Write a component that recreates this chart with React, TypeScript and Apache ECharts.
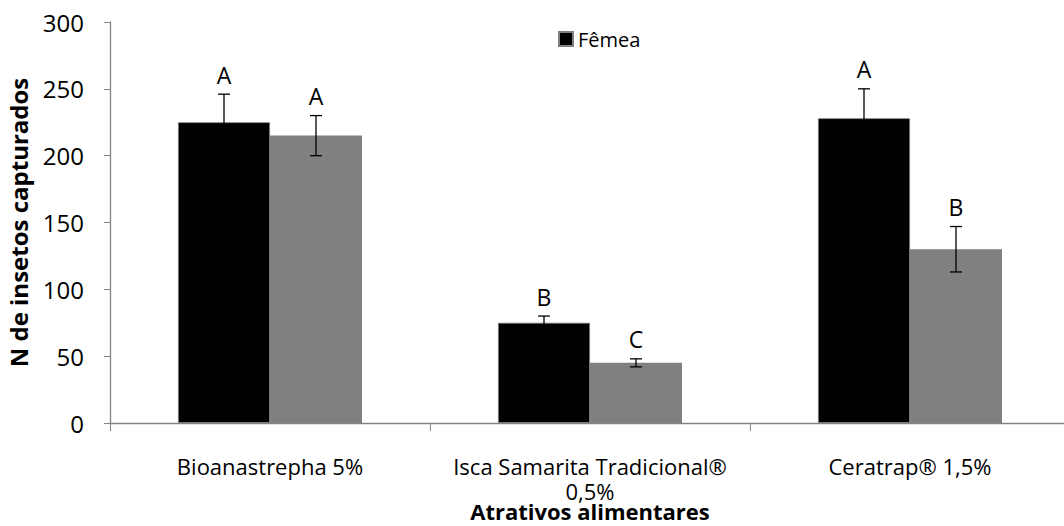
import React, { useEffect, useRef } from "react";
import * as echarts from "echarts";

const categories = ["Bioanastrepha 5%", "Isca Samarita Tradicional®\n0,5%", "Ceratrap® 1,5%"];
const femea = [225, 75, 228];
const femeaErr = [21, 5, 22];
const femeaLetters = ["A", "B", "A"];
const macho = [215, 45, 130];
const machoErr = [15, 3, 17];
const machoLetters = ["A", "C", "B"];
const yTicks = { min: 0, max: 300, interval: 50 };

const FONT = "'Open Sans', 'Noto Sans', sans-serif";
const BAR_W = 92;

export default function App() {
  const ref = useRef<HTMLDivElement>(null);
  useEffect(() => {
    if (!ref.current) return;
    const chart = echarts.init(ref.current, null, { renderer: "svg" });
    const errData = (vals: number[], errs: number[]) => vals.map((v, i) => [i, v, errs[i]]);
    const makeErr = (offsetSign: number, letters: string[]) => (params: any, api: any) => {
      const i = api.value(0);
      const v = api.value(1);
      const e = api.value(2);
      const center = api.coord([i, v]);
      const x = center[0] + (offsetSign * BAR_W) / 2;
      const top = api.coord([i, v + e])[1];
      const bot = api.coord([i, v - e])[1];
      const cap = 6;
      const st = { stroke: "#000", lineWidth: 1.3 };
      return {
        type: "group",
        children: [
          { type: "line", shape: { x1: x, y1: top, x2: x, y2: bot }, style: st },
          { type: "line", shape: { x1: x - cap, y1: top, x2: x + cap, y2: top }, style: st },
          { type: "line", shape: { x1: x - cap, y1: bot, x2: x + cap, y2: bot }, style: st },
          {
            type: "text",
            x: x,
            y: top - 8,
            style: {
              text: letters[params.dataIndex],
              fill: "#000",
              font: `23px ${FONT}`,
              textAlign: "center",
              textVerticalAlign: "bottom",
            },
          },
        ],
      };
    };
    chart.setOption({
      animation: false,
      textStyle: { fontFamily: FONT },
      legend: {
        data: [{ name: "Fêmea", icon: "rect" }],
        top: 24,
        left: 553,
        itemWidth: 14,
        itemHeight: 14,
        itemGap: 4,
        textStyle: { fontSize: 20, color: "#000", fontFamily: FONT },
      },
      grid: { left: 110, width: 960, top: 22, height: 401, containLabel: false, outerBoundsMode: "none" },
      xAxis: {
        type: "category",
        data: categories,
        axisLine: { lineStyle: { color: "#868686", width: 1.3 } },
        axisTick: { show: true, length: 8, lineStyle: { color: "#868686" } },
        axisLabel: { color: "#000", fontSize: 22, margin: 30, lineHeight: 25, fontFamily: FONT, interval: 0 },
        name: "Atrativos alimentares",
        nameLocation: "middle",
        nameGap: 77,
        nameMoveOverlap: false,
        nameTextStyle: { fontSize: 22, fontWeight: "bold", color: "#000", fontFamily: FONT },
      },
      yAxis: {
        type: "value",
        min: yTicks.min,
        max: yTicks.max,
        interval: yTicks.interval,
        splitLine: { show: false },
        axisLine: { show: true, lineStyle: { color: "#868686", width: 1.3 } },
        axisTick: { show: true, length: 6, lineStyle: { color: "#868686" } },
        axisLabel: { color: "#000", fontSize: 24, margin: 26, fontFamily: FONT },
        name: "N de insetos capturados",
        nameLocation: "middle",
        nameGap: 80,
        nameMoveOverlap: false,
        nameTextStyle: { fontSize: 24, fontWeight: "bold", color: "#000", fontFamily: FONT },
      },
      series: [
        {
          name: "Fêmea",
          type: "bar",
          data: femea,
          barWidth: BAR_W,
          barGap: "0%",
          itemStyle: { color: "#000", borderColor: "#7f7f7f", borderWidth: 0.8 },
        },
        {
          name: "Macho",
          type: "bar",
          data: macho,
          barWidth: BAR_W,
          barGap: "0%",
          itemStyle: { color: "#808080" },
        },
        {
          name: "errF",
          type: "custom",
          data: errData(femea, femeaErr),
          encode: { x: 0, y: 1 },
          renderItem: makeErr(-1, femeaLetters),
          z: 5,
        },
        {
          name: "errM",
          type: "custom",
          data: errData(macho, machoErr),
          encode: { x: 0, y: 1 },
          renderItem: makeErr(1, machoLetters),
          z: 5,
        },
      ],
    });
    return () => chart.dispose();
  }, []);
  return (
    <div
      ref={ref}
      style={{ position: "fixed", left: 0, top: 0, width: 1064, height: 526, background: "#fff" }}
    />
  );
}
